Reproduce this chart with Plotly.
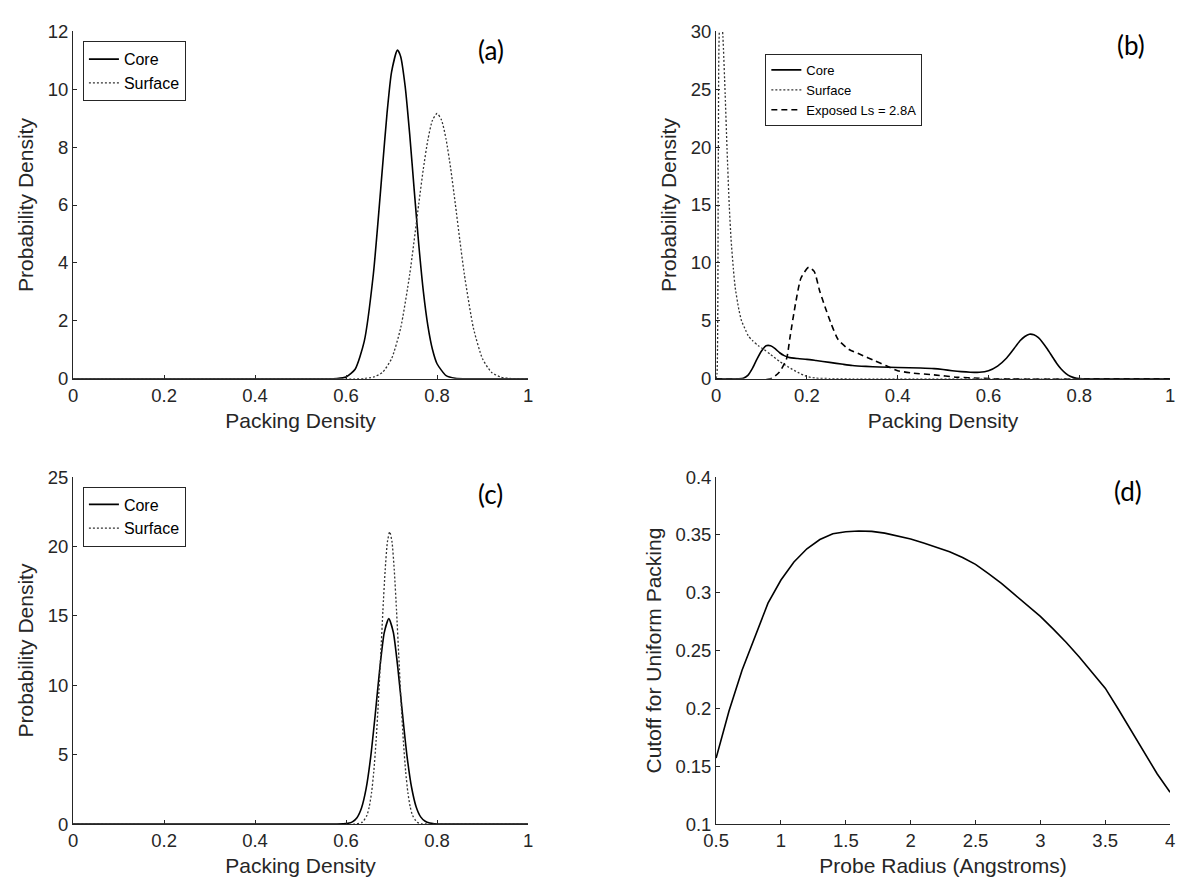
import plotly.graph_objects as go

# ---- (a) packing density, core vs surface ----
a_core_x = [0.0, 0.55, 0.58, 0.60, 0.62, 0.64, 0.66, 0.68, 0.69, 0.70, 0.713, 0.72, 0.73, 0.74,
            0.75, 0.76, 0.77, 0.78, 0.79, 0.80, 0.82, 0.84, 0.87, 1.0]
a_core_y = [0.0, 0.0, 0.01, 0.06, 0.33, 1.29, 3.61, 7.28, 9.15, 10.59, 11.35, 11.13, 10.09, 8.43,
            6.49, 4.61, 3.01, 1.82, 1.01, 0.52, 0.11, 0.02, 0.0, 0.0]
a_surf_x = [0.0, 0.62, 0.64, 0.66, 0.68, 0.70, 0.72, 0.74, 0.76, 0.77, 0.78, 0.79, 0.80, 0.81,
            0.82, 0.83, 0.84, 0.85, 0.86, 0.88, 0.90, 0.92, 0.94, 0.96, 1.0]
a_surf_y = [0.0, 0.0, 0.01, 0.06, 0.22, 0.69, 1.75, 3.61, 6.06, 7.26, 8.26, 8.93, 9.16, 8.93,
            8.26, 7.26, 6.06, 4.80, 3.61, 1.75, 0.69, 0.22, 0.06, 0.01, 0.0]

# ---- (b) packing density, with exposed residues ----
b_core_x = [0.0, 0.05, 0.06, 0.07, 0.08, 0.09, 0.10, 0.11, 0.12, 0.13, 0.14, 0.15, 0.16, 0.18,
            0.20, 0.22, 0.25, 0.28, 0.30, 0.33, 0.36, 0.40, 0.45, 0.48, 0.50, 0.52, 0.54, 0.56,
            0.58, 0.60, 0.62, 0.64, 0.66, 0.67, 0.68, 0.69, 0.70, 0.71, 0.72, 0.73, 0.74, 0.75,
            0.76, 0.77, 0.78, 0.79, 0.80, 0.82, 1.0]
b_core_y = [0.0, 0.0, 0.05, 0.3, 0.9, 1.7, 2.4, 2.85, 2.85, 2.6, 2.25, 2.0, 1.85, 1.75,
            1.68, 1.58, 1.42, 1.25, 1.15, 1.07, 1.02, 0.97, 0.93, 0.88, 0.80, 0.70, 0.62, 0.57,
            0.56, 0.70, 1.1, 1.8, 2.8, 3.3, 3.65, 3.85, 3.8, 3.55, 3.1, 2.55, 1.95, 1.35,
            0.85, 0.48, 0.22, 0.08, 0.02, 0.0, 0.0]
b_surf_x = [0.0, 0.002, 0.005, 0.008, 0.012, 0.015, 0.020, 0.024, 0.029, 0.033, 0.038, 0.042,
            0.050, 0.056, 0.065, 0.071, 0.080, 0.093, 0.105, 0.12, 0.14, 0.16, 0.18, 0.20, 0.22,
            0.25, 0.30, 1.0]
b_surf_y = [0.0, 0.5, 20.0, 30.5, 31.0, 29.5, 24.5, 19.9, 14.9, 12.0, 9.5, 7.9,
            6.0, 5.0, 4.2, 3.7, 3.3, 2.85, 2.55, 2.1, 1.5, 1.0, 0.55, 0.2, 0.06,
            0.02, 0.0, 0.0]
b_exp_x = [0.0, 0.12, 0.139, 0.155, 0.163, 0.175, 0.187, 0.204, 0.216, 0.228, 0.24, 0.253,
           0.269, 0.293, 0.318, 0.35, 0.375, 0.40, 0.432, 0.48, 0.53, 0.58, 0.62, 1.0]
b_exp_y = [0.0, 0.0, 0.56, 1.7, 3.65, 6.5, 8.7, 9.63, 9.27, 7.6, 6.2, 4.8,
           3.37, 2.53, 2.1, 1.55, 1.12, 0.70, 0.5, 0.34, 0.14, 0.05, 0.0, 0.0]

# ---- (c) packing density, second data set ----
c_core_x = [0.0, 0.58, 0.594, 0.604, 0.614, 0.624, 0.634, 0.644, 0.654, 0.664, 0.674, 0.684,
            0.694, 0.704, 0.714, 0.724, 0.734, 0.744, 0.754, 0.764, 0.774, 0.784, 0.794, 0.81, 1.0]
c_core_y = [0.0, 0.0, 0.01, 0.05, 0.16, 0.46, 1.16, 2.53, 4.78, 7.84, 11.15, 13.79,
            14.8, 13.8, 11.2, 7.95, 4.9, 2.65, 1.25, 0.52, 0.2, 0.07, 0.02, 0.0, 0.0]
c_surf_x = [0.0, 0.62, 0.636, 0.646, 0.651, 0.656, 0.661, 0.666, 0.671, 0.676, 0.681, 0.686,
            0.691, 0.696, 0.701, 0.706, 0.711, 0.716, 0.721, 0.726, 0.731, 0.736, 0.741,
            0.746, 0.756, 0.766, 0.78, 1.0]
c_surf_y = [0.0, 0.0, 0.14, 0.64, 1.24, 2.24, 3.79, 5.97, 8.78, 12.03, 15.37, 18.3,
            20.34, 21.06, 20.34, 18.3, 15.37, 12.03, 8.78, 5.97, 3.79, 2.24, 1.24,
            0.64, 0.14, 0.02, 0.0, 0.0]

# ---- (d) cutoff vs probe radius ----
d_radius = [0.5, 0.6, 0.7, 0.8, 0.9, 1.0, 1.1, 1.2, 1.3, 1.4, 1.5, 1.6, 1.7, 1.8, 1.9, 2.0,
            2.1, 2.2, 2.3, 2.4, 2.5, 2.6, 2.7, 2.8, 2.9, 3.0, 3.1, 3.2, 3.3, 3.4, 3.5, 3.6,
            3.7, 3.8, 3.9, 4.0]
d_cutoff = [0.157, 0.198, 0.233, 0.262, 0.291, 0.311, 0.3265, 0.338, 0.346, 0.351, 0.3527,
            0.3533, 0.353, 0.3515, 0.349, 0.3465, 0.343, 0.3395, 0.3355, 0.3305, 0.3245,
            0.3165, 0.308, 0.2985, 0.289, 0.2795, 0.2685, 0.257, 0.2445, 0.2315, 0.2175,
            0.1995, 0.1805, 0.1615, 0.1435, 0.1275]

density_ticks = [0, 0.2, 0.4, 0.6, 0.8, 1]
density_ticktext = ["0", "0.2", "0.4", "0.6", "0.8", "1"]
a_yticks = [0, 2, 4, 6, 8, 10, 12]
b_yticks = [0, 5, 10, 15, 20, 25, 30]
c_yticks = [0, 5, 10, 15, 20, 25]
d_xticks = [0.5, 1, 1.5, 2, 2.5, 3, 3.5, 4]
d_xticktext = ["0.5", "1", "1.5", "2", "2.5", "3", "3.5", "4"]
d_yticks = [0.1, 0.15, 0.2, 0.25, 0.3, 0.35, 0.4]
d_yticktext = ["0.1", "0.15", "0.2", "0.25", "0.3", "0.35", "0.4"]

panel_labels = ["(a)", "(b)", "(c)", "(d)"]

INK = "#262626"
AXFONT = "Liberation Sans, Arial, sans-serif"
SOLID = dict(color="black", width=1.6)
DOTTED = dict(color="#333333", width=1.3, dash="2px,2px")
DASHED = dict(color="black", width=1.6, dash="6px,4px")

fig = go.Figure()

def add_curve(x, y, name, line, xa, ya, legend, show=True, shape="spline"):
    fig.add_trace(go.Scatter(
        x=x, y=y, name=name, mode="lines",
        line=dict(shape=shape, smoothing=0.6 if shape == "spline" else None, **line),
        xaxis=xa, yaxis=ya, legend=legend, showlegend=show,
    ))

add_curve(a_core_x, a_core_y, "Core", SOLID, "x", "y", "legend")
add_curve(a_surf_x, a_surf_y, "Surface", DOTTED, "x", "y", "legend")
add_curve(b_core_x, b_core_y, "Core", SOLID, "x2", "y2", "legend2")
add_curve(b_surf_x, b_surf_y, "Surface", DOTTED, "x2", "y2", "legend2")
add_curve(b_exp_x, b_exp_y, "Exposed Ls = 2.8A", DASHED, "x2", "y2", "legend2")
add_curve(c_core_x, c_core_y, "Core", SOLID, "x3", "y3", "legend3")
add_curve(c_surf_x, c_surf_y, "Surface", DOTTED, "x3", "y3", "legend3")
add_curve(d_radius, d_cutoff, "Cutoff", SOLID, "x4", "y4", "legend", show=False, shape="linear")

W, H = 1180, 890
def px(v):
    return v / W
def py(v):
    return 1 - v / H

left_dom = [px(61), px(523)]
right_dom = [px(714), px(1175)]
top_dom = [py(376.7), py(20.7)]
bot_dom = [py(832.7), py(477.3)]

def axis(domain, anchor, rng, tickvals, ticktext, title, standoff):
    return dict(
        domain=domain, anchor=anchor, range=rng, tickvals=tickvals, ticktext=ticktext,
        showline=True, linecolor=INK, linewidth=1, ticks="inside", ticklen=4,
        tickwidth=1, tickcolor=INK, showgrid=False, zeroline=False,
        tickfont=dict(family=AXFONT, size=18.5, color=INK),
        title=dict(text=title, font=dict(family=AXFONT, size=21, color=INK), standoff=standoff),
    )

fig.update_layout(
    width=W, height=H, margin=dict(l=0, r=0, t=0, b=0),
    paper_bgcolor="white", plot_bgcolor="white",
    xaxis=axis(left_dom, "y", [0, 1], density_ticks, density_ticktext, "Packing Density", 8),
    yaxis=axis(top_dom, "x", [0, 12], a_yticks, [str(v) for v in a_yticks], "Probability Density", 8),
    xaxis2=axis(right_dom, "y2", [0, 1], density_ticks, density_ticktext, "Packing Density", 8),
    yaxis2=axis(top_dom, "x2", [0, 30], b_yticks, [str(v) for v in b_yticks], "Probability Density", 8),
    xaxis3=axis(left_dom, "y3", [0, 1], density_ticks, density_ticktext, "Packing Density", 8),
    yaxis3=axis(bot_dom, "x3", [0, 25], c_yticks, [str(v) for v in c_yticks], "Probability Density", 8),
    xaxis4=axis(right_dom, "y4", [0.5, 4], d_xticks, d_xticktext, "Probe Radius (Angstroms)", 8),
    yaxis4=axis(bot_dom, "x4", [0.1, 0.4], d_yticks, d_yticktext, "Cutoff for Uniform Packing", 8),
)

legend_style = dict(
    xanchor="left", yanchor="top", bgcolor="white", bordercolor=INK, borderwidth=1,
    itemwidth=30, tracegroupgap=0,
)
fig.update_layout(
    legend=dict(x=px(71), y=py(31), font=dict(family=AXFONT, size=16, color="black"), **legend_style),
    legend2=dict(x=px(764), y=py(44), font=dict(family=AXFONT, size=13, color="black"), **legend_style),
    legend3=dict(x=px(71), y=py(487), font=dict(family=AXFONT, size=16, color="black"), **legend_style),
)

label_pos = [(485, 40), (1135, 35), (485, 495), (1132, 492)]
for text, (lx, ly) in zip(panel_labels, label_pos):
    fig.add_annotation(
        text=text, x=px(lx), y=py(ly), xref="paper", yref="paper",
        xanchor="center", yanchor="middle", showarrow=False,
        font=dict(family="Lato, Carlito, sans-serif", size=26, color="black"),
    )

fig.write_html("out.html")
